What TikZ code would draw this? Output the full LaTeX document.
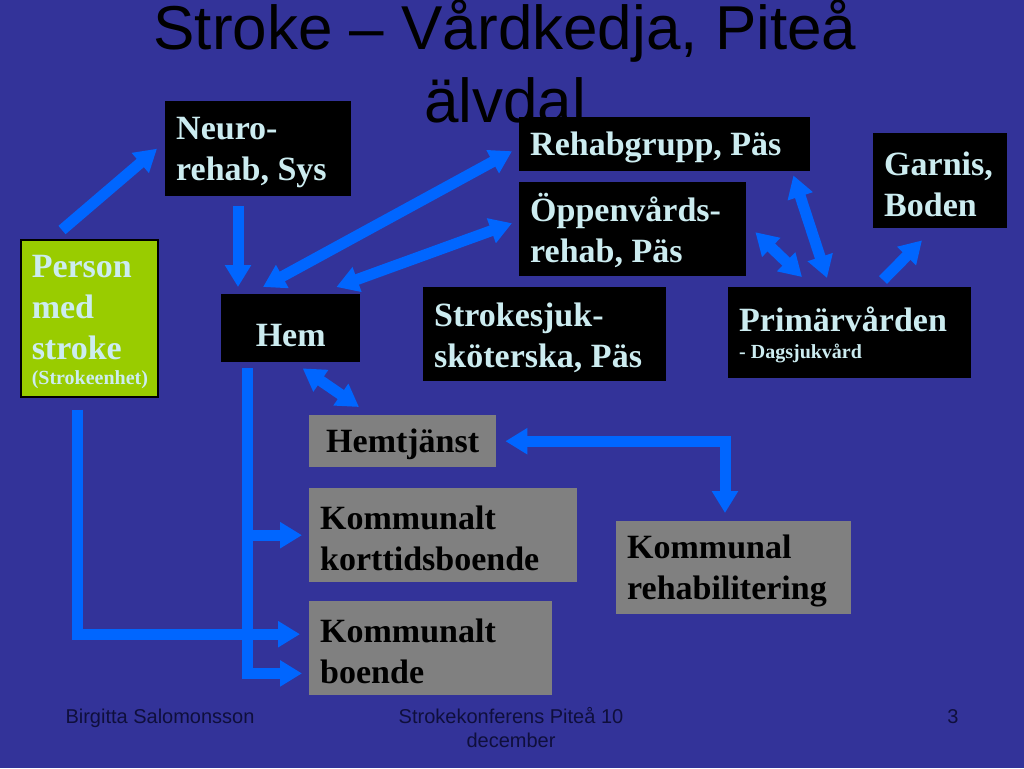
\documentclass[tikz,border=0pt]{standalone}
\usepackage{fontspec}
\setmainfont{Liberation Serif}
\newfontfamily\slidesans{Liberation Sans}
\usepackage{xcolor}
\definecolor{slideblue}{RGB}{51,51,153}
\definecolor{flowblue}{RGB}{0,102,255}
\definecolor{boxgreen}{RGB}{153,204,0}
\definecolor{boxgrey}{RGB}{128,128,128}
\definecolor{boxtext}{RGB}{204,236,240}
\definecolor{footnavy}{RGB}{15,15,60}
\usepackage{tikz}
\usetikzlibrary{arrows.meta}
\newcommand{\boxfont}{\bfseries\fontsize{34}{41}\selectfont}
\newcommand{\smallline}{\fontsize{20}{25}\selectfont}
\newcommand{\footfont}{\slidesans\fontsize{20}{24}\selectfont}
\tikzset{
    box/.style={anchor=north west, inner xsep=11pt, inner ysep=0pt, align=left, font=\boxfont,
        execute at begin node={\spaceskip=0pt\xspaceskip=0pt\rule{0pt}{30pt}}},
    darkbox/.style={box, fill=black, text=boxtext},
    greenbox/.style={box, fill=boxgreen, draw=black, line width=1.5pt, text=boxtext},
    greybox/.style={box, fill=boxgrey, text=black},
    blocktip/.tip={Triangle[length=22pt, width=25pt]},
    flow/.style={draw=flowblue, line width=11pt, -blocktip},
    twoway/.style={flow, blocktip-blocktip},
    foot/.style={font=\footfont, text=footnavy}
}

\begin{document}
\begin{tikzpicture}[x=1pt, y=-1pt]
  \useasboundingbox (0,0) rectangle (1024,768);
  \fill[slideblue] (0,0) rectangle (1024,768);

  \node[font=\slidesans\fontsize{62}{73}\selectfont, align=center, anchor=base] (title) at (505,122)
    {Stroke – Vårdkedja, Piteå\\älvdal};

  \node[greenbox, text width=115pt, minimum height=157pt] (person) at (20,239)
    {Person\\med\\stroke\\[-16pt]{\smallline (Strokeenhet)}};
  \node[darkbox, text width=164pt, minimum height=95pt] (neuro-rehab) at (165,101) {Neuro-\\rehab, Sys};
  \node[darkbox, text width=117pt, minimum height=68pt, text height=36pt, align=center] (hem) at (221,294) {Hem};
  \node[darkbox, text width=269pt, minimum height=54pt] (rehabgrupp) at (519,117) {Rehabgrupp, Päs};
  \node[darkbox, text width=205pt, minimum height=94pt] (oppenvard) at (519,182) {Öppenvårds-\\rehab, Päs};
  \node[darkbox, text width=112pt, minimum height=95pt] (garnis) at (873,133) {Garnis,\\Boden};
  \node[darkbox, text width=221pt, minimum height=94pt] (strokesjuk) at (423,287) {Strokesjuk-\\sköterska, Päs};
  \node[darkbox, text width=221pt, minimum height=91pt] (primarvard) at (728,287)
    {Primärvården\\[-14pt]{\smallline - Dagsjukvård}};
  \node[greybox, text width=165pt, minimum height=52pt, align=center] (hemtjanst) at (309,415) {Hemtjänst};
  \node[greybox, text width=246pt, minimum height=94pt] (korttidsboende) at (309,488) {Kommunalt\\korttidsboende};
  \node[greybox, text width=221pt, minimum height=94pt] (boende) at (309,601) {Kommunalt\\boende};
  \node[greybox, text width=213pt, minimum height=93pt] (kommunal-rehab) at (616,521) {Kommunal\\rehabilitering};

  \draw[flow] ([shift={(42pt,9pt)}]person.north west) -- ([xshift=-8pt]neuro-rehab.west);
  \draw[flow] ([shift={(73pt,-10pt)}]neuro-rehab.south west) -- ([shift={(17pt,7pt)}]hem.north west);
  \draw[twoway] ([shift={(-7pt,-7pt)}]rehabgrupp.west) -- ([shift={(42pt,7pt)}]hem.north west);
  \draw[twoway] ([shift={(-7pt,6pt)}]oppenvard.west) -- ([shift={(-24pt,7pt)}]hem.north east);
  \draw[twoway] ([shift={(12pt,-6pt)}]hem.south) -- ([shift={(50pt,8pt)}]hemtjanst.north west);
  \draw[twoway] ([shift={(9pt,-3pt)}]oppenvard.east) -- ([shift={(74pt,10pt)}]primarvard.north west);
  \draw[twoway] ([shift={(-17pt,-4pt)}]rehabgrupp.south east) -- ([shift={(99pt,9pt)}]primarvard.north west);
  \draw[flow] ([shift={(155pt,7pt)}]primarvard.north west) -- ([shift={(49pt,-12pt)}]garnis.south west);
  \draw[twoway] ([xshift=9pt]hemtjanst.east) -| ([shift={(109pt,8pt)}]kommunal-rehab.north west);

  \coordinate (hem-down) at ([shift={(26pt,-6pt)}]hem.south west);
  \draw[flow] (hem-down) |- ([shift={(-7pt,22pt)}]boende.south west);
  \draw[flow] (hem-down |- korttidsboende.west) -- ([xshift=-7pt]korttidsboende.west);
  \draw[flow] ([shift={(57pt,-12pt)}]person.south west) |- ([shift={(-9pt,14pt)}]boende.west);

  \node[foot, anchor=base west] (author) at (62,723) {Birgitta Salomonsson};
  \node[foot, align=center, anchor=base] (conference) at (511,747) {Strokekonferens Piteå 10\\december};
  \node[foot, anchor=base east] (slide-no) at (962,723) {3};
\end{tikzpicture}
\end{document}
